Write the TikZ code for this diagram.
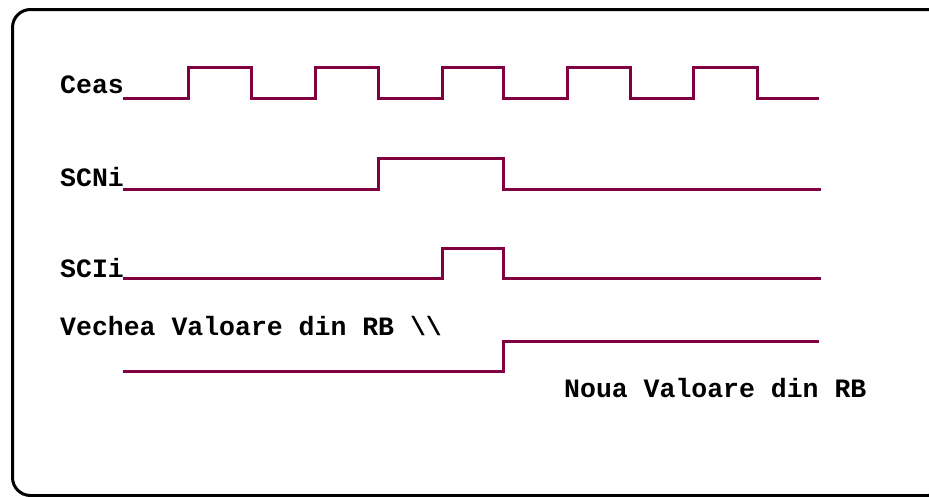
\documentclass[tikz,border=0pt]{standalone}
\usepackage{fontspec}
\setmonofont{Liberation Mono}
\definecolor{wave}{HTML}{800040}
\begin{document}
\begin{tikzpicture}[x=1pt,y=-1pt,
  wavestyle/.style={draw=wave,line width=3pt,line join=miter},
  lbl/.style={anchor=base west,inner sep=0pt,font=\fontsize{26.5}{26.5}\selectfont\ttfamily\bfseries}]
\useasboundingbox (0,0) rectangle (929,496);
\draw[line width=3pt,rounded corners=18pt] (12.5,9.5) rectangle (946,495.5);
% labels
\node[lbl] (ceas) at (60,93) {Ceas};
\node[lbl] (scni) at (60,186) {SCNi};
\node[lbl] (scii) at (60,277) {SCIi};
\node[lbl] (vechea) at (60,335) {Vechea Valoare din RB \textbackslash\textbackslash};
\node[lbl] (noua) at (564,397) {Noua Valoare din RB};
% Ceas
\draw[wavestyle] (123,98) -- (188,98) -- (188,67) -- (251,67) -- (251,98) -- (315,98) -- (315,67) -- (378,67) -- (378,98)
  -- (442,98) -- (442,67) -- (503,67) -- (503,98) -- (567,98) -- (567,67) -- (630,67) -- (630,98)
  -- (693,98) -- (693,67) -- (757,67) -- (757,98) -- (819,98);
% SCNi
\draw[wavestyle] (123,189) -- (378,189) -- (378,158) -- (503,158) -- (503,189) -- (821,189);
% SCIi
\draw[wavestyle] (123,278) -- (442,278) -- (442,248) -- (503,248) -- (503,278) -- (821,278);
% RB
\draw[wavestyle] (123,371) -- (503,371) -- (503,341) -- (819,341);
\end{tikzpicture}
\end{document}
